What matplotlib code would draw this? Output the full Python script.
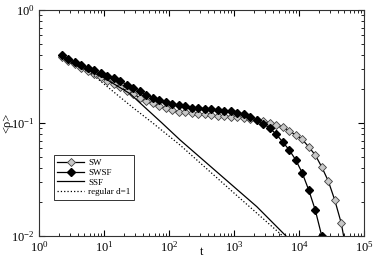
import matplotlib
matplotlib.use('Agg')
import matplotlib.pyplot as plt
from matplotlib.ticker import LogLocator, NullFormatter

plt.rcParams['font.family'] = ['Liberation Serif', 'DejaVu Serif']
plt.rcParams['mathtext.fontset'] = 'stix'

# time grid of the marker series
t = [2.24, 2.82, 3.55, 4.47, 5.62, 7.08, 8.91, 11.2, 14.1, 17.8,
     22.4, 28.2, 35.5, 44.7, 56.2, 70.8, 89.1, 112, 141, 178,
     224, 282, 355, 447, 562, 708, 891, 1122, 1413, 1778,
     2239, 2818, 3548, 4467, 5623, 7079, 8913, 11220, 14125, 17783,
     22387, 28184, 35481, 44668, 56234]

sw = [0.384, 0.355, 0.331, 0.309, 0.288, 0.272, 0.254, 0.237, 0.221, 0.207,
      0.193, 0.180, 0.168, 0.157, 0.149, 0.141, 0.135, 0.130, 0.126, 0.124,
      0.122, 0.120, 0.119, 0.117, 0.116, 0.115, 0.114, 0.112, 0.110, 0.108,
      0.106, 0.104, 0.100, 0.0966, 0.0923, 0.0851, 0.0783, 0.0716, 0.0614, 0.0521,
      0.0408, 0.0307, 0.0208, 0.0130, 0.0063]

swsf = [0.398, 0.370, 0.347, 0.327, 0.309, 0.292, 0.275, 0.260, 0.248, 0.234,
        0.219, 0.204, 0.191, 0.178, 0.168, 0.160, 0.153, 0.148, 0.144, 0.140,
        0.137, 0.136, 0.134, 0.132, 0.131, 0.129, 0.127, 0.123, 0.119, 0.113,
        0.106, 0.0989, 0.0902, 0.0794, 0.0679, 0.0577, 0.0471, 0.0361, 0.0255, 0.0170,
        0.0100]

ssf_t = [2.24, 10, 25, 78, 148, 2239, 6310]
ssf = [0.380, 0.251, 0.182, 0.100, 0.0708, 0.0182, 0.0100]

reg_t = [2.24, 6.31, 26.9, 56.2, 148, 1000, 5623]
reg = [0.372, 0.275, 0.139, 0.100, 0.0638, 0.024, 0.0100]

fig = plt.figure(figsize=(3.74, 2.66), dpi=100)
ax = fig.add_axes([39/374, 30/266, 325/374, 226/266])

ax.plot(t[:len(sw)], sw, '-', color='black', lw=0.9, marker='D', ms=3.8,
        mfc='#c8c8c8', mec='#404040', mew=0.6, label='SW')
ax.plot(t[:len(swsf)], swsf, '-', color='black', lw=0.9, marker='D', ms=3.8,
        mfc='black', mec='black', label='SWSF')
ax.plot(ssf_t, ssf, '-', color='black', lw=0.9, label='SSF')
ax.plot(reg_t, reg, ':', color='black', lw=0.9, label='regular d=1')

ax.set_xscale('log')
ax.set_yscale('log')
ax.set_xlim(1, 1e5)
ax.set_ylim(1e-2, 1)

ax.xaxis.set_major_locator(LogLocator(base=10, numticks=10))
ax.xaxis.set_minor_locator(LogLocator(base=10, subs=range(2, 10), numticks=20))
ax.xaxis.set_minor_formatter(NullFormatter())
ax.yaxis.set_minor_formatter(NullFormatter())
ax.tick_params(which='both', direction='in', top=True, right=True, labelsize=9)
ax.tick_params(which='major', length=4, width=0.8, pad=3)
ax.tick_params(which='minor', length=2.2, width=0.6)
for sp in ax.spines.values():
    sp.set_linewidth(0.8)
    sp.set_color('#333333')

ax.set_xlabel('t', fontsize=9)
ax.xaxis.set_label_coords(0.5, -0.045)
ax.set_ylabel('<ρ>', fontsize=9)
ax.yaxis.set_label_coords(-0.08, 0.5)

leg = ax.legend(loc='lower left', bbox_to_anchor=(0.045, 0.16), fontsize=6.5,
                frameon=True, fancybox=False, handlelength=3.0, handletextpad=0.4,
                borderpad=0.4, labelspacing=0.15, borderaxespad=0)
leg.get_frame().set_edgecolor('black')
leg.get_frame().set_linewidth(0.7)

plt.savefig('out.png', dpi=100)
